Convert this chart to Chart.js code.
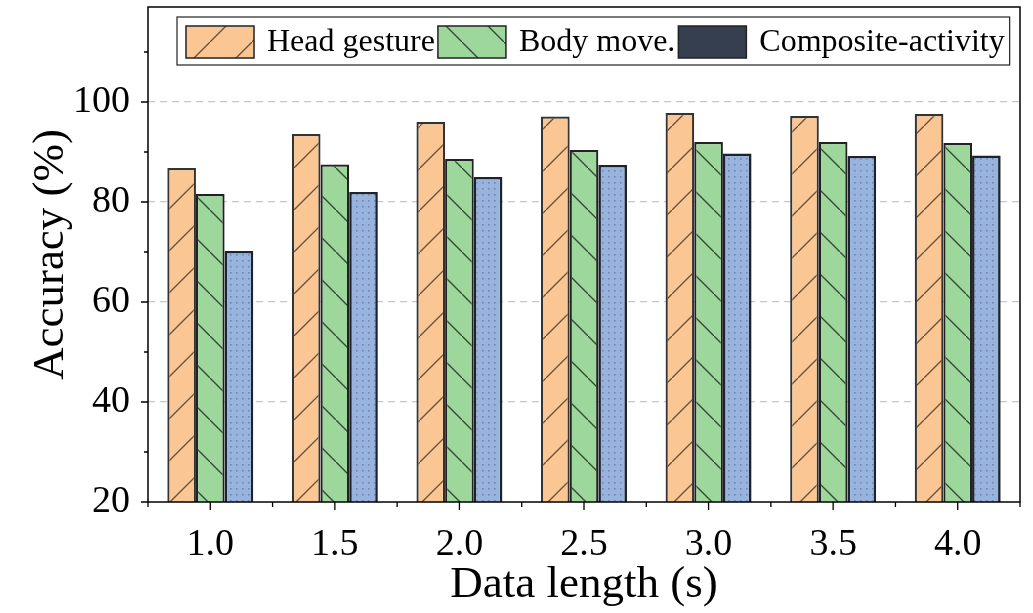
<!DOCTYPE html>
<html>
<head>
<meta charset="utf-8">
<script src="https://cdn.jsdelivr.net/npm/chart.js@4/dist/chart.umd.min.js"></script>
<style>
  html, body { margin: 0; padding: 0; background: #fff; }
  #wrap { width: 1033px; height: 613px; }
</style>
</head>
<body>
<div id="wrap"><canvas id="accChart" width="1033" height="613"></canvas></div>
<script>
// ================= DATA =================
const categories = ["1.0", "1.5", "2.0", "2.5", "3.0", "3.5", "4.0"];
const headGesture = [86.8, 93.6, 96.0, 97.1, 97.8, 97.2, 97.6];
const bodyMove = [81.6, 87.5, 88.6, 90.4, 92.0, 92.0, 91.8];
const composite = [70.2, 82.0, 85.0, 87.4, 89.7, 89.2, 89.3];
const seriesNames = ["Head gesture", "Body move.", "Composite-activity"];
const yMin = 20, yMax = 119;

const FONT = '"Liberation Serif", "Times New Roman", serif';

// ================= PATTERNS =================
function hatch(bg, line, dir) {
  const s = 42;
  const c = document.createElement("canvas");
  c.width = s; c.height = s;
  const g = c.getContext("2d");
  g.fillStyle = bg;
  g.fillRect(0, 0, s, s);
  g.strokeStyle = line;
  g.lineWidth = 1.3;
  g.beginPath();
  if (dir === "/") {
    g.moveTo(-2, s + 2); g.lineTo(s + 2, -2);
  } else {
    g.moveTo(-2, -2); g.lineTo(s + 2, s + 2);
  }
  g.stroke();
  return g.createPattern(c, "repeat");
}

function dots(bg, dot) {
  const s = 6;
  const c = document.createElement("canvas");
  c.width = s; c.height = s;
  const g = c.getContext("2d");
  g.fillStyle = bg;
  g.fillRect(0, 0, s, s);
  g.fillStyle = dot;
  g.fillRect(2, 2, 1.6, 1.6);
  return g.createPattern(c, "repeat");
}

const orangeFill = hatch("#fac794", "#6b5038", "/");
const greenFill = hatch("#9dd79b", "#2f4a30", "\\");
const blueFill = dots("#98b4de", "#6f86ad");

// ================= PLUGINS =================
const frameTicks = {
  id: "frameTicks",
  afterDatasetsDraw(chart) {
    const { ctx, chartArea: a, scales: { x, y } } = chart;
    ctx.save();
    ctx.strokeStyle = "#000";
    ctx.lineWidth = 1.5;
    ctx.strokeRect(a.left, a.top, a.right - a.left, a.bottom - a.top);

    ctx.lineWidth = 1.3;
    ctx.beginPath();
    // y ticks, major every 20 and minor every 10
    for (let v = yMin; v <= 110; v += 10) {
      const py = y.getPixelForValue(v);
      const len = v % 20 === 0 ? 7 : 4;
      ctx.moveTo(a.left - len, py);
      ctx.lineTo(a.left, py);
    }
    // x ticks, major at categories and minor between them
    for (let i = 0; i < categories.length; i++) {
      const px = x.getPixelForValue(i);
      ctx.moveTo(px, a.bottom);
      ctx.lineTo(px, a.bottom + 8);
    }
    for (let i = 0; i <= categories.length; i++) {
      let px;
      if (i === 0) px = a.left;
      else if (i === categories.length) px = a.right;
      else px = (x.getPixelForValue(i - 1) + x.getPixelForValue(i)) / 2;
      ctx.moveTo(px, a.bottom);
      ctx.lineTo(px, a.bottom + 5);
    }
    ctx.stroke();
    ctx.restore();
  }
};

const boxLegend = {
  id: "boxLegend",
  afterDraw(chart) {
    const { ctx } = chart;
    const fills = [orangeFill, greenFill, "#353f4f"];
    const bw = 68, bh = 32, top = 26;
    ctx.save();
    ctx.font = "32px " + FONT;
    ctx.textBaseline = "middle";
    let cx = 186;
    const startX = cx;
    seriesNames.forEach((name, i) => {
      ctx.fillStyle = fills[i];
      ctx.fillRect(cx, top, bw, bh);
      ctx.strokeStyle = "#222";
      ctx.lineWidth = 1.5;
      ctx.strokeRect(cx, top, bw, bh);
      cx += bw + 13;
      ctx.fillStyle = "#000";
      ctx.fillText(name, cx, top + bh / 2 + 1);
      cx += ctx.measureText(name).width + 3;
    });
    ctx.strokeStyle = "#222";
    ctx.lineWidth = 1.2;
    ctx.strokeRect(startX - 9, 17, cx - startX + 11, 48);
    ctx.restore();
  }
};

// ================= CHART =================
new Chart(document.getElementById("accChart"), {
  type: "bar",
  data: {
    labels: categories,
    datasets: [
      { label: seriesNames[0], data: headGesture, backgroundColor: orangeFill, borderColor: "#333", borderWidth: 2.2 },
      { label: seriesNames[1], data: bodyMove, backgroundColor: greenFill, borderColor: "#222", borderWidth: 2.2 },
      { label: seriesNames[2], data: composite, backgroundColor: blueFill, borderColor: "#1c2230", borderWidth: 2.6 }
    ]
  },
  options: {
    responsive: false,
    animation: false,
    categoryPercentage: 0.69,
    barPercentage: 1.0,
    layout: { padding: { top: 7, right: 13, left: 0, bottom: 0 } },
    plugins: { legend: { display: false }, tooltip: { enabled: false } },
    scales: {
      x: {
        afterFit: s => { s.height = 111; s.paddingLeft = 0; s.paddingRight = 0; },
        grid: { display: false, drawTicks: false },
        border: { display: false },
        ticks: { color: "#000", font: { family: FONT, size: 38 }, padding: 20, maxRotation: 0 },
        title: { display: true, text: "Data length (s)", color: "#000", font: { family: FONT, size: 45 }, padding: { top: 0, bottom: 1 } }
      },
      y: {
        min: yMin,
        max: yMax,
        afterFit: s => { s.width = 148; s.paddingTop = 0; s.paddingBottom = 0; },
        ticks: {
          stepSize: 20,
          includeBounds: false,
          color: "#000",
          font: { family: FONT, size: 38 },
          padding: 18,
          callback: v => (v % 20 === 0 ? v : "")
        },
        grid: {
          drawTicks: false,
          color: c => (c.tick && c.tick.value > yMin && c.tick.value % 20 === 0 ? "#c8c8c8" : "transparent"),
          lineWidth: 1.2
        },
        border: { display: false, dash: [7, 5] },
        title: { display: true, text: "Accuracy (%)", color: "#000", font: { family: FONT, size: 45 }, padding: { top: 24, bottom: 0 } }
      }
    }
  },
  plugins: [frameTicks, boxLegend]
});
</script>
</body>
</html>
